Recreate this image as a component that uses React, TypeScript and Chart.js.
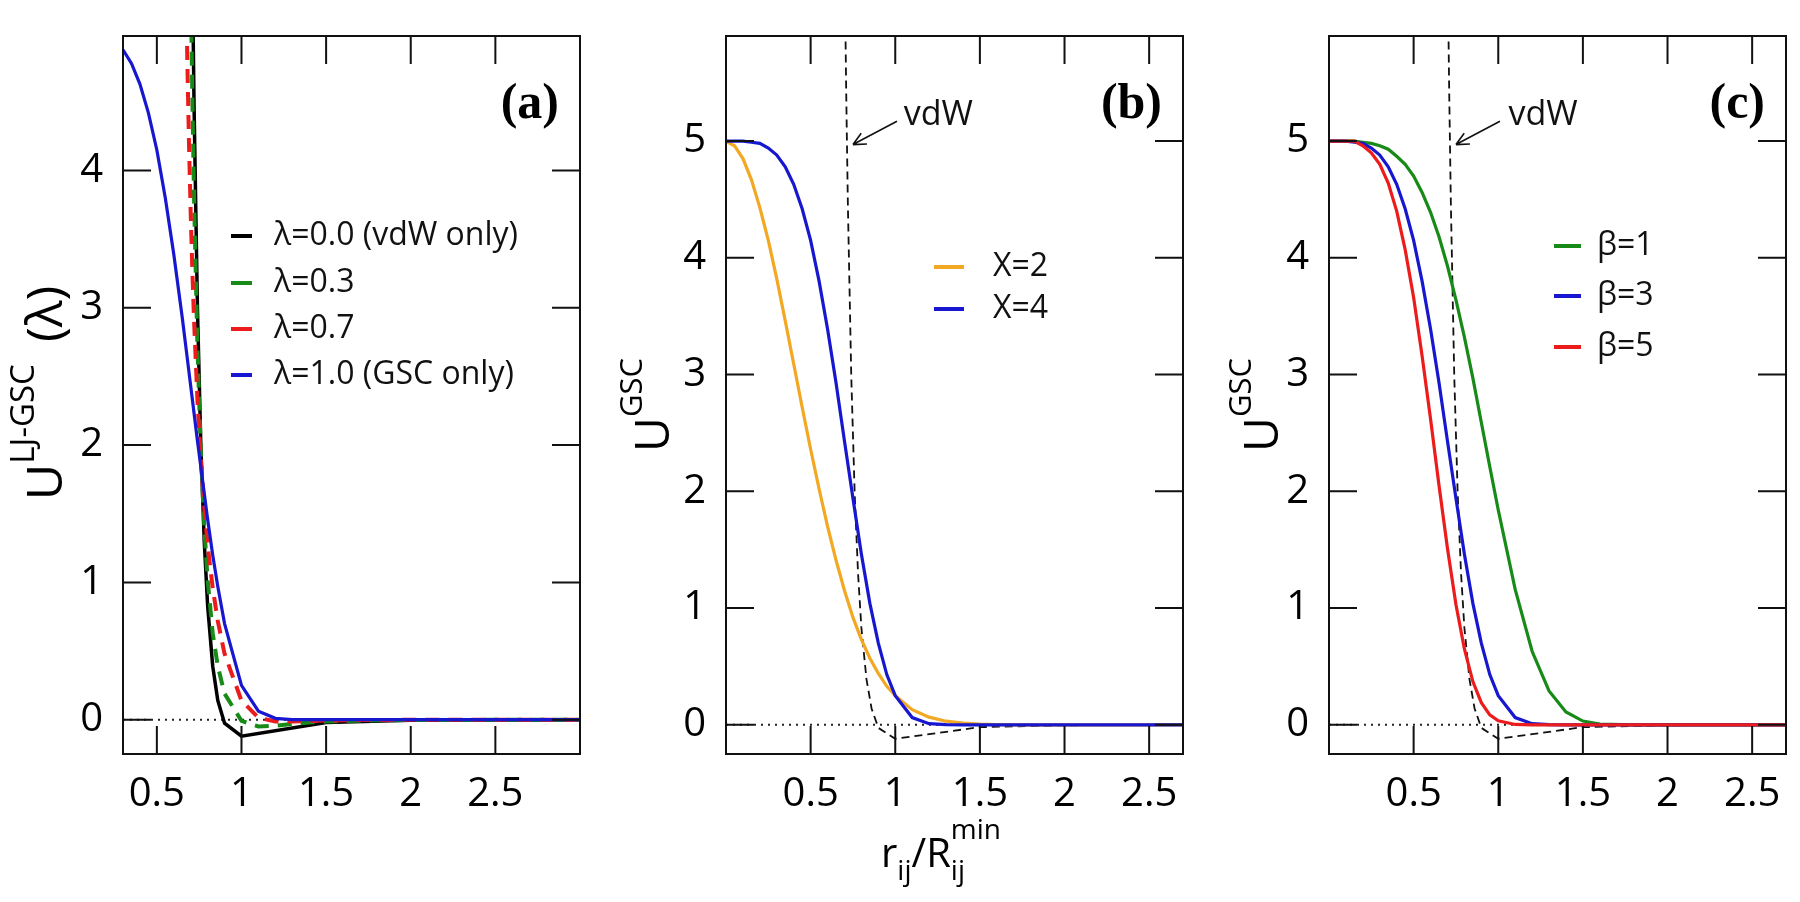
import React, { useEffect, useRef } from "react";
import { Chart, registerables } from "chart.js";

Chart.register(...registerables);

const FONT = "'Open Sans', 'Noto Sans', sans-serif";
const SERIF = "'Liberation Serif', 'Times New Roman', serif";
const INK = "#111";
const BLUE = "#1717d0";
const RED = "#ec1c1c";
const GREEN = "#178a17";
const ORANGE = "#f2a823";

// ---------------- shared tick labels ----------------
const X_TICKS = [0.5, 1, 1.5, 2, 2.5];
const Y_TICKS_A = [0, 1, 2, 3, 4];
const Y_TICKS_BC = [0, 1, 2, 3, 4, 5];

// ---------------- panel (a): U^{LJ-GSC}(lambda) ----------------
const xA = [0.3, 0.35, 0.4, 0.45, 0.5, 0.55, 0.6, 0.65, 0.67, 0.68, 0.69, 0.7, 0.71, 0.72, 0.74, 0.76, 0.78, 0.8, 0.83, 0.86, 0.9, 1.0, 1.1, 1.2, 1.3, 1.4, 1.5, 1.6, 1.8, 2.0, 2.5, 3.0];
const lam10 = [4.88, 4.78, 4.63, 4.42, 4.15, 3.8, 3.39, 2.93, 2.73, 2.63, 2.53, 2.43, 2.33, 2.23, 2.03, 1.84, 1.65, 1.46, 1.2, 0.97, 0.7, 0.25, 0.062, 0.01, 0, 0, 0, 0, 0, 0, 0, 0];
const lam07 = [null, null, null, null, null, null, null, 7.42, 5.51, 4.8, 4.19, 3.69, 3.26, 2.9, 2.32, 1.89, 1.55, 1.27, 0.96, 0.72, 0.48, 0.139, 0.014, -0.013, -0.013, -0.009, -0.006, -0.004, -0.002, -0.001, 0, 0];
const lam03 = [null, null, null, null, null, null, null, 13.41, 9.23, 7.69, 6.42, 5.37, 4.51, 3.79, 2.7, 1.94, 1.41, 1.02, 0.63, 0.39, 0.19, -0.009, -0.049, -0.044, -0.031, -0.021, -0.014, -0.01, -0.005, -0.003, -0.001, 0];
const xLam00 = [0.69, 0.7, 0.71, 0.72, 0.74, 0.76, 0.78, 0.8, 0.83, 0.86, 0.9, 1.0, 1.5, 2.0, 3.0];
const lam00 = [8.08, 6.63, 5.44, 4.46, 2.99, 1.99, 1.3, 0.83, 0.39, 0.14, -0.026, -0.12, -0.02, -0.004, 0];

// ---------------- panels (b), (c): U^{GSC} ----------------
const xB = [0, 0.05, 0.1, 0.15, 0.2, 0.25, 0.3, 0.35, 0.4, 0.45, 0.5, 0.55, 0.6, 0.65, 0.7, 0.75, 0.8, 0.85, 0.9, 0.95, 1.0, 1.1, 1.2, 1.3, 1.4, 1.5, 1.6, 1.8, 2.0, 2.7];
const chi2 = [5, 4.96, 4.85, 4.67, 4.43, 4.15, 3.82, 3.46, 3.09, 2.72, 2.36, 2.02, 1.7, 1.41, 1.15, 0.92, 0.73, 0.57, 0.44, 0.33, 0.25, 0.13, 0.066, 0.031, 0.014, 0.006, 0.002, 0, 0, 0];
const chi4 = [5, 5, 5, 4.99, 4.98, 4.94, 4.88, 4.78, 4.63, 4.42, 4.15, 3.8, 3.39, 2.93, 2.43, 1.94, 1.46, 1.04, 0.7, 0.43, 0.25, 0.062, 0.01, 0.001, 0, 0, 0, 0, 0, 0];
const beta1 = [5, 5, 5, 5, 4.99, 4.98, 4.96, 4.93, 4.87, 4.8, 4.7, 4.56, 4.39, 4.18, 3.93, 3.64, 3.32, 2.97, 2.59, 2.21, 1.84, 1.16, 0.63, 0.29, 0.11, 0.032, 0.007, 0, 0, 0];
const beta3 = [5, 5, 5, 4.99, 4.98, 4.94, 4.88, 4.78, 4.63, 4.42, 4.15, 3.8, 3.39, 2.93, 2.43, 1.94, 1.46, 1.04, 0.7, 0.43, 0.25, 0.062, 0.01, 0.001, 0, 0, 0, 0, 0, 0];
const beta5 = [5, 5, 5, 5, 4.96, 4.9, 4.8, 4.64, 4.4, 4.07, 3.66, 3.16, 2.62, 2.05, 1.51, 1.03, 0.65, 0.37, 0.19, 0.085, 0.034, 0.003, 0, 0, 0, 0, 0, 0, 0, 0];
const xVdw = [0.69, 0.7, 0.71, 0.72, 0.74, 0.76, 0.78, 0.8, 0.83, 0.86, 0.9, 1.0, 1.5, 2.0, 2.7];
const vdw = [8.08, 6.63, 5.44, 4.46, 2.99, 1.99, 1.3, 0.83, 0.39, 0.14, -0.026, -0.12, -0.02, -0.004, 0];

const pts = (xs: number[], ys: (number | null)[]) => xs.map((x, i) => ({ x, y: ys[i] }));

type Piece = { t: string; size: number; dy?: number; gap?: number; overlay?: boolean; style?: string; family?: string };

function drawPieces(ctx: CanvasRenderingContext2D, pieces: Piece[], cx: number, by: number) {
  let cursor = 0;
  let prevStart = 0;
  const placed = pieces.map((p) => {
    ctx.font = `${p.style || ""} ${p.size}px ${p.family || FONT}`;
    const w = ctx.measureText(p.t).width;
    const start = p.overlay ? prevStart : cursor + (p.gap || 0);
    prevStart = start;
    cursor = Math.max(cursor, start + w);
    return { p, start };
  });
  const x0 = cx - cursor / 2;
  ctx.textAlign = "left";
  ctx.textBaseline = "alphabetic";
  placed.forEach(({ p, start }) => {
    ctx.font = `${p.style || ""} ${p.size}px ${p.family || FONT}`;
    ctx.fillText(p.t, x0 + start, by + (p.dy || 0));
  });
}

interface Spec {
  key: string;
  left: number;
  area: { left: number; right: number; top: number; bottom: number };
  xRange: number[];
  yRange: number[];
  yTicks: number[];
  datasets: any[];
  legend: { x1: number; x2: number; tx: number; rows: number[]; size: number };
  label: string;
  yTitle: Piece[];
  yTitleX: number;
  yTitleY: number;
  xTitle?: Piece[];
  xTitleX?: number;
  xTitleY?: number;
  vdw?: { tail: number[]; tip: number[]; text: number[] };
}

const CW = 600;
const CH = 902;
const TICK = 28;

function zeroLine(r: number[]) {
  return { label: "_zero", data: [{ x: r[0], y: 0 }, { x: r[1], y: 0 }], borderColor: "#222", borderWidth: 2, borderDash: [2, 5], order: 20 };
}

const specA: Spec = {
  key: "a",
  left: 0,
  area: { left: 123, right: 580, top: 19, bottom: 754 },
  xRange: [0.3, 3.0],
  yRange: [-0.25, 4.98],
  yTicks: Y_TICKS_A,
  datasets: [
    { label: "λ=1.0 (GSC only)", data: pts(xA, lam10), borderColor: BLUE, borderWidth: 3.2, order: 1, rank: 3 },
    { label: "λ=0.7", data: pts(xA, lam07), borderColor: RED, borderWidth: 4, borderDash: [14, 9], order: 2, rank: 2 },
    { label: "λ=0.3", data: pts(xA, lam03), borderColor: GREEN, borderWidth: 4, borderDash: [14, 9], order: 3, rank: 1 },
    { label: "λ=0.0 (vdW only)", data: pts(xLam00, lam00), borderColor: "#000", borderWidth: 3.5, order: 4, rank: 0 },
    zeroLine([0.3, 3.0]),
  ],
  legend: { x1: 231, x2: 252, tx: 274, rows: [236, 283, 329, 375], size: 32 },
  label: "(a)",
  yTitle: [
    { t: "U", size: 50 },
    { t: "LJ-GSC", size: 33, dy: -28 },
    { t: "(λ)", size: 50, gap: 22 },
  ],
  yTitleX: 62,
  yTitleY: 393,
};

const specB: Spec = {
  key: "b",
  left: 600,
  area: { left: 126, right: 583, top: 19, bottom: 754 },
  xRange: [0, 2.7],
  yRange: [-0.25, 5.9],
  yTicks: Y_TICKS_BC,
  datasets: [
    { label: "X=4", data: pts(xB, chi4), borderColor: BLUE, borderWidth: 3.2, order: 1, rank: 1 },
    { label: "X=2", data: pts(xB, chi2), borderColor: ORANGE, borderWidth: 3.2, order: 2, rank: 0 },
    { label: "_vdw", data: pts(xVdw, vdw), borderColor: "#111", borderWidth: 1.8, borderDash: [8, 5], order: 3 },
    zeroLine([0, 2.7]),
  ],
  legend: { x1: 334, x2: 364, tx: 393, rows: [267, 309], size: 32 },
  label: "(b)",
  yTitle: [
    { t: "U", size: 48 },
    { t: "GSC", size: 31, dy: -27 },
  ],
  yTitleX: 69,
  yTitleY: 405,
  xTitle: [
    { t: "r", size: 40 },
    { t: "ij", size: 28, dy: 13 },
    { t: "/", size: 40 },
    { t: "R", size: 40 },
    { t: "ij", size: 28, dy: 13 },
    { t: "min", size: 28, dy: -28, overlay: true },
  ],
  xTitleX: 341,
  xTitleY: 867,
  vdw: { tail: [1.01, 5.17], tip: [0.75, 4.97], text: [1.05, 5.22] },
};

const specC: Spec = {
  key: "c",
  left: 1200,
  area: { left: 129, right: 586, top: 19, bottom: 754 },
  xRange: [0, 2.7],
  yRange: [-0.25, 5.9],
  yTicks: Y_TICKS_BC,
  datasets: [
    { label: "β=5", data: pts(xB, beta5), borderColor: RED, borderWidth: 3.2, order: 1, rank: 2 },
    { label: "β=3", data: pts(xB, beta3), borderColor: BLUE, borderWidth: 3.2, order: 2, rank: 1 },
    { label: "β=1", data: pts(xB, beta1), borderColor: GREEN, borderWidth: 3.2, order: 3, rank: 0 },
    { label: "_vdw", data: pts(xVdw, vdw), borderColor: "#111", borderWidth: 1.8, borderDash: [8, 5], order: 4 },
    zeroLine([0, 2.7]),
  ],
  legend: { x1: 354, x2: 381, tx: 397, rows: [246, 296, 347], size: 32 },
  label: "(c)",
  yTitle: [
    { t: "U", size: 48 },
    { t: "GSC", size: 31, dy: -27 },
  ],
  yTitleX: 78,
  yTitleY: 405,
  vdw: { tail: [1.01, 5.17], tip: [0.75, 4.97], text: [1.06, 5.22] },
};

function makeDecor(spec: Spec) {
  return {
    id: "decor_" + spec.key,
    afterDatasetsDraw(chart: any) {
      const { ctx, chartArea: ca } = chart;
      const xs = chart.scales.x;
      const ys = chart.scales.y;
      ctx.save();
      ctx.strokeStyle = INK;
      ctx.lineWidth = 2;
      ctx.setLineDash([]);
      ctx.beginPath();
      xs.ticks.forEach((t: any) => {
        const p = xs.getPixelForValue(t.value);
        ctx.moveTo(p, ca.bottom);
        ctx.lineTo(p, ca.bottom - TICK);
        ctx.moveTo(p, ca.top);
        ctx.lineTo(p, ca.top + TICK);
      });
      ys.ticks.forEach((t: any) => {
        const p = ys.getPixelForValue(t.value);
        ctx.moveTo(ca.left, p);
        ctx.lineTo(ca.left + TICK, p);
        ctx.moveTo(ca.right, p);
        ctx.lineTo(ca.right - TICK, p);
      });
      ctx.stroke();
      ctx.strokeRect(ca.left, ca.top, ca.right - ca.left, ca.bottom - ca.top);

      // vdW annotation
      if (spec.vdw) {
        const x1 = xs.getPixelForValue(spec.vdw.tail[0]);
        const y1 = ys.getPixelForValue(spec.vdw.tail[1]);
        const x2 = xs.getPixelForValue(spec.vdw.tip[0]);
        const y2 = ys.getPixelForValue(spec.vdw.tip[1]);
        ctx.lineWidth = 1.6;
        ctx.beginPath();
        ctx.moveTo(x1, y1);
        ctx.lineTo(x2, y2);
        const ang = Math.atan2(y2 - y1, x2 - x1);
        const L = 14;
        [-0.45, 0.45].forEach((s) => {
          ctx.moveTo(x2, y2);
          ctx.lineTo(x2 - L * Math.cos(ang + s), y2 - L * Math.sin(ang + s));
        });
        ctx.stroke();
        ctx.fillStyle = INK;
        ctx.font = `34px ${FONT}`;
        ctx.textAlign = "left";
        ctx.textBaseline = "middle";
        ctx.fillText("vdW", xs.getPixelForValue(spec.vdw.text[0]), ys.getPixelForValue(spec.vdw.text[1]));
      }

      // legend
      const items = chart.data.datasets
        .filter((d: any) => d.rank !== undefined)
        .sort((a: any, b: any) => a.rank - b.rank);
      items.forEach((d: any, i: number) => {
        const yy = spec.legend.rows[i];
        ctx.strokeStyle = d.borderColor;
        ctx.lineWidth = 4;
        ctx.setLineDash([]);
        ctx.beginPath();
        ctx.moveTo(spec.legend.x1, yy);
        ctx.lineTo(spec.legend.x2, yy);
        ctx.stroke();
        ctx.fillStyle = INK;
        ctx.font = `${spec.legend.size}px ${FONT}`;
        ctx.textAlign = "left";
        ctx.textBaseline = "middle";
        ctx.fillText(d.label, spec.legend.tx, yy);
      });

      // panel label
      ctx.fillStyle = "#000";
      ctx.font = `bold 50px ${SERIF}`;
      ctx.textAlign = "right";
      ctx.textBaseline = "middle";
      ctx.fillText(spec.label, ca.right - 21, ca.top + 69);

      // y title (rotated)
      ctx.save();
      ctx.translate(spec.yTitleX, spec.yTitleY);
      ctx.rotate(-Math.PI / 2);
      drawPieces(ctx, spec.yTitle, 0, 0);
      ctx.restore();

      // x title
      if (spec.xTitle) {
        drawPieces(ctx, spec.xTitle, spec.xTitleX as number, spec.xTitleY as number);
      }
      ctx.restore();
    },
  };
}

function makeChart(canvas: HTMLCanvasElement, spec: Spec) {
  const cfg: any = {
    type: "line",
    data: {
      datasets: spec.datasets.map((d) => ({
        pointRadius: 0,
        pointHoverRadius: 0,
        fill: false,
        tension: 0,
        clip: 0,
        spanGaps: false,
        ...d,
      })),
    },
    options: {
      responsive: false,
      animation: false,
      devicePixelRatio: 1,
      events: [],
      layout: { padding: { left: 0, top: spec.area.top, right: CW - spec.area.right, bottom: 0 } },
      plugins: { legend: { display: false }, tooltip: { enabled: false } },
      scales: {
        x: {
          type: "linear",
          min: spec.xRange[0],
          max: spec.xRange[1],
          grid: { display: false },
          border: { display: false },
          afterBuildTicks: (s: any) => {
            s.ticks = X_TICKS.map((v) => ({ value: v }));
          },
          afterFit: (s: any) => {
            s.height = CH - spec.area.bottom;
          },
          ticks: {
            autoSkip: false,
            maxRotation: 0,
            minRotation: 0,
            padding: 9,
            color: "#000",
            font: { family: FONT, size: 40 },
            callback: (v: any) => String(v),
          },
        },
        y: {
          type: "linear",
          min: spec.yRange[0],
          max: spec.yRange[1],
          grid: { display: false },
          border: { display: false },
          afterBuildTicks: (s: any) => {
            s.ticks = spec.yTicks.map((v) => ({ value: v }));
          },
          afterFit: (s: any) => {
            s.width = spec.area.left;
          },
          ticks: {
            autoSkip: false,
            padding: 12,
            color: "#000",
            font: { family: FONT, size: 40 },
            callback: (v: any) => String(v),
          },
        },
      },
    },
    plugins: [makeDecor(spec)],
  };
  return new Chart(canvas, cfg);
}

export default function App() {
  const refA = useRef<HTMLCanvasElement>(null);
  const refB = useRef<HTMLCanvasElement>(null);
  const refC = useRef<HTMLCanvasElement>(null);

  useEffect(() => {
    const charts = [
      makeChart(refA.current as HTMLCanvasElement, specA),
      makeChart(refB.current as HTMLCanvasElement, specB),
      makeChart(refC.current as HTMLCanvasElement, specC),
    ];
    let alive = true;
    if ((document as any).fonts && (document as any).fonts.ready) {
      (document as any).fonts.ready.then(() => {
        if (alive) charts.forEach((c) => c.update());
      });
    }
    return () => {
      alive = false;
      charts.forEach((c) => c.destroy());
    };
  }, []);

  const cs = (left: number): React.CSSProperties => ({ position: "absolute", left, top: 0, width: CW, height: CH });

  return (
    <div style={{ position: "absolute", left: 0, top: 0, width: 1800, height: 902, background: "#fff", overflow: "hidden" }}>
      <canvas ref={refA} width={CW} height={CH} style={cs(specA.left)} />
      <canvas ref={refB} width={CW} height={CH} style={cs(specB.left)} />
      <canvas ref={refC} width={CW} height={CH} style={cs(specC.left)} />
    </div>
  );
}
